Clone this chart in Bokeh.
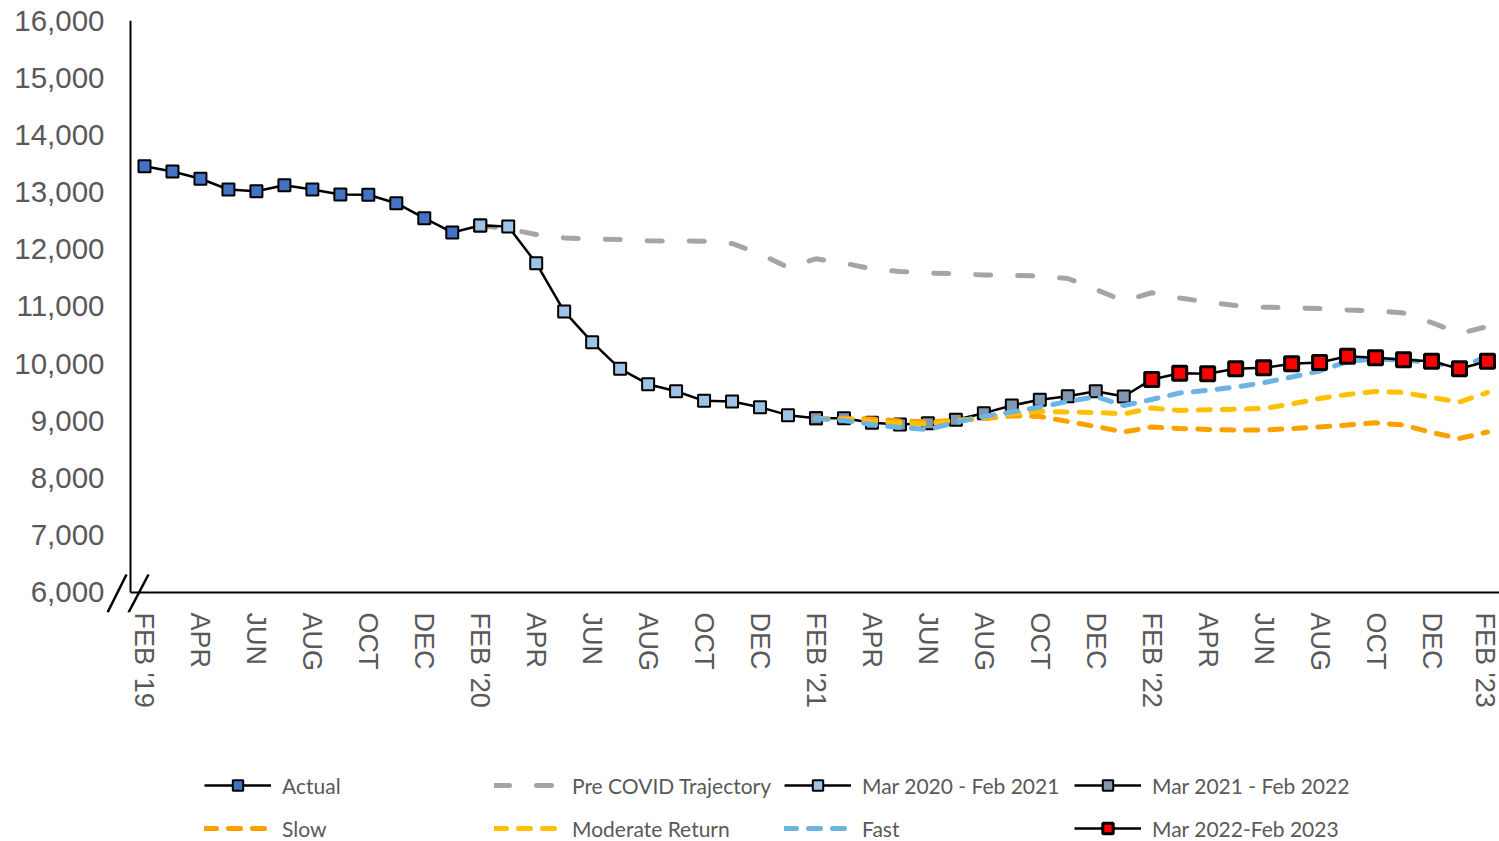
import math
from bokeh.plotting import figure
from bokeh.layouts import column
from bokeh.models import (FixedTicker, NumeralTickFormatter, Range1d, Legend, LegendItem)
from bokeh.embed import file_html
from bokeh.resources import INLINE

# ---------------- data ----------------
# month index 0 = Feb 2019 ... 48 = Feb 2023
months = list(range(49))
tick_labels = ["FEB '19", "APR", "JUN", "AUG", "OCT", "DEC",
               "FEB '20", "APR", "JUN", "AUG", "OCT", "DEC",
               "FEB '21", "APR", "JUN", "AUG", "OCT", "DEC",
               "FEB '22", "APR", "JUN", "AUG", "OCT", "DEC",
               "FEB '23"]

actual = [13453, 13360, 13233, 13045, 13016, 13121, 13045, 12958, 12953,
          12806, 12544, 12294, 12416]                      # Feb19 - Feb20
mar2020 = [12416, 12400, 11757, 10913, 10376, 9910, 9642, 9519, 9351,
           9339, 9240, 9100, 9047]                         # Feb20 - Feb21
mar2021 = [9047, 9047, 8967, 8937, 8960, 9019, 9135, 9269, 9369, 9432,
           9519, 9427, 9725]                               # Feb21 - Feb22
mar2022 = [9725, 9834, 9824, 9911, 9928, 9998, 10021, 10131, 10103,
           10068, 10044, 9911, 10044]                      # Feb22 - Feb23
pre_covid = [12416, 12355, 12259, 12198, 12180, 12171, 12149, 12145, 12142,
             12101, 11919, 11682, 11834, 11760, 11656, 11612, 11586, 11572,
             11551, 11542, 11533, 11490, 11297, 11098, 11240, 11147, 11079,
             11017, 10988, 10977, 10965, 10939, 10925, 10886, 10720, 10528,
             10650]                                        # Feb20 - Feb23
slow = [9042, 9040, 9035, 9000, 8985, 9007, 9042, 9086, 9077, 8990, 8902,
        8806, 8893, 8867, 8850, 8841, 8841, 8867, 8893, 8928, 8967, 8928,
        8797, 8692, 8806]                                  # Feb21 - Feb23
moderate = [9042, 9030, 8990, 8960, 8950, 9000, 9059, 9121, 9164, 9156,
            9147, 9121, 9225, 9182, 9194, 9205, 9217, 9295, 9392, 9462,
            9514, 9497, 9409, 9330, 9497]
fast = [9042, 9007, 8937, 8885, 8850, 8972, 9077, 9156, 9243, 9339, 9424,
        9269, 9374, 9488, 9535, 9592, 9668, 9767, 9872, 10038, 10082,
        10065, 10021, 9916, 10140]

y_ticks = [6000, 7000, 8000, 9000, 10000, 11000, 12000, 13000, 14000, 15000, 16000]

label_color = "#595959"

# ---------------- main figure ----------------
p = figure(width=1499, height=750, output_backend="svg", toolbar_location=None,
           x_range=Range1d(-1.358, 48.43), y_range=Range1d(5650, 16000),
           min_border_left=106, min_border_right=0, min_border_top=20,
           min_border_bottom=138)
p.outline_line_color = None
p.grid.visible = False
p.background_fill_color = "white"
p.border_fill_color = "white"

for ax in (p.xaxis[0], p.yaxis[0]):
    ax.axis_line_color = None
    ax.major_tick_line_color = None
    ax.minor_tick_line_color = None
    ax.major_tick_out = 0
    ax.major_tick_in = 0
    ax.major_label_text_font = "Liberation Sans"
    ax.major_label_text_color = label_color

p.yaxis[0].major_label_text_font_size = "29.5px"
p.xaxis[0].major_label_text_font_size = "27px"

p.yaxis[0].ticker = FixedTicker(ticks=y_ticks)
p.yaxis[0].formatter = NumeralTickFormatter(format="0,0")
p.yaxis[0].major_label_standoff = 2

x_tick_pos = months[::2]
p.xaxis[0].ticker = FixedTicker(ticks=x_tick_pos)
p.xaxis[0].major_label_overrides = {t: lab for t, lab in zip(x_tick_pos, tick_labels)}
p.xaxis[0].major_label_orientation = -math.pi / 2
p.xaxis[0].major_label_standoff = 0

# axis lines drawn at the category boundary (x = -0.5) and y = 6000
x_left = -0.5
y_base = y_ticks[0]
p.segment(x0=[x_left], y0=[y_base], x1=[x_left], y1=[y_ticks[-1]],
          line_color="black", line_width=2)
p.segment(x0=[x_left], y0=[y_base], x1=[48.43], y1=[y_base],
          line_color="black", line_width=2)

# axis break marks (offsets in pixel space converted to data units)
mpp = 1 / 27.98          # months per pixel
upp = 1000 / 57.2        # units per pixel
bx0 = [x_left - 23 * mpp, x_left - 2 * mpp]
bx1 = [x_left - 4 * mpp, x_left + 18 * mpp]
by0 = [y_base - 20 * upp] * 2
by1 = [y_base + 18 * upp] * 2
p.segment(x0=bx0, y0=by0, x1=bx1, y1=by1, line_color="black", line_width=2.5)


def m(start, vals):
    return months[start:start + len(vals)]


def add_series(fig):
    def dashed(start, vals, color, dash):
        return [fig.line(m(start, vals), vals, line_color=color, line_width=5,
                         line_dash=dash, line_cap="round")]

    def marker_series(start, vals, fill, size=12, lw=2):
        ln = fig.line(m(start, vals), vals, line_color="black", line_width=2.5)
        sc = fig.scatter(m(start, vals), vals, marker="square", size=size,
                         fill_color=fill, line_color="black", line_width=lw)
        return [ln, sc]

    r = {}
    r["pre"] = dashed(12, pre_covid, "#A5A5A5", "15 27")
    r["act"] = marker_series(0, actual, "#4472C4")
    r["m20"] = marker_series(12, mar2020, "#9DC3E6")
    r["m21"] = marker_series(24, mar2021, "#8497B0")
    r["slow"] = dashed(24, slow, "#FFA000", "12 12")
    r["mod"] = dashed(24, moderate, "#FFC000", "12 12")
    r["fast"] = dashed(24, fast, "#6CB4E4", "12 12")
    r["m22"] = marker_series(36, mar2022, "#FF0000", size=14, lw=3)
    return r


add_series(p)

# ---------------- legend strip ----------------
lg = figure(width=1499, height=91, output_backend="svg", toolbar_location=None,
            x_range=Range1d(100, 101), y_range=Range1d(0, 1),
            min_border_left=0, min_border_right=0, min_border_top=0,
            min_border_bottom=0)
lg.axis.visible = False
lg.grid.visible = False
lg.outline_line_color = None
lg.background_fill_color = "white"
lg.border_fill_color = "white"

# same series drawn in the strip (out of its visible range) so the legend can show their glyphs
rl = add_series(lg)
row1 = [
    LegendItem(label="Actual", renderers=rl["act"]),
    LegendItem(label="Pre COVID Trajectory", renderers=rl["pre"]),
    LegendItem(label="Mar 2020 - Feb 2021", renderers=rl["m20"]),
    LegendItem(label="Mar 2021 - Feb 2022", renderers=rl["m21"]),
]
row2 = [
    LegendItem(label="Slow", renderers=rl["slow"]),
    LegendItem(label="Moderate Return", renderers=rl["mod"]),
    LegendItem(label="Fast", renderers=rl["fast"]),
    LegendItem(label="Mar 2022-Feb 2023", renderers=rl["m22"]),
]
legend_style = dict(orientation="horizontal",
                    label_text_font="Lato", label_text_font_size="21px",
                    label_text_color=label_color, glyph_width=67, glyph_height=26,
                    label_standoff=11, label_width=200, spacing=12, padding=0, margin=0,
                    border_line_color=None, background_fill_alpha=0)
lg.add_layout(Legend(items=row1, location=(98, 43), **legend_style))
lg.add_layout(Legend(items=row2, location=(98, 0), **legend_style))

layout = column(p, lg, spacing=0)
open("out.html", "w").write(file_html(layout, INLINE))
